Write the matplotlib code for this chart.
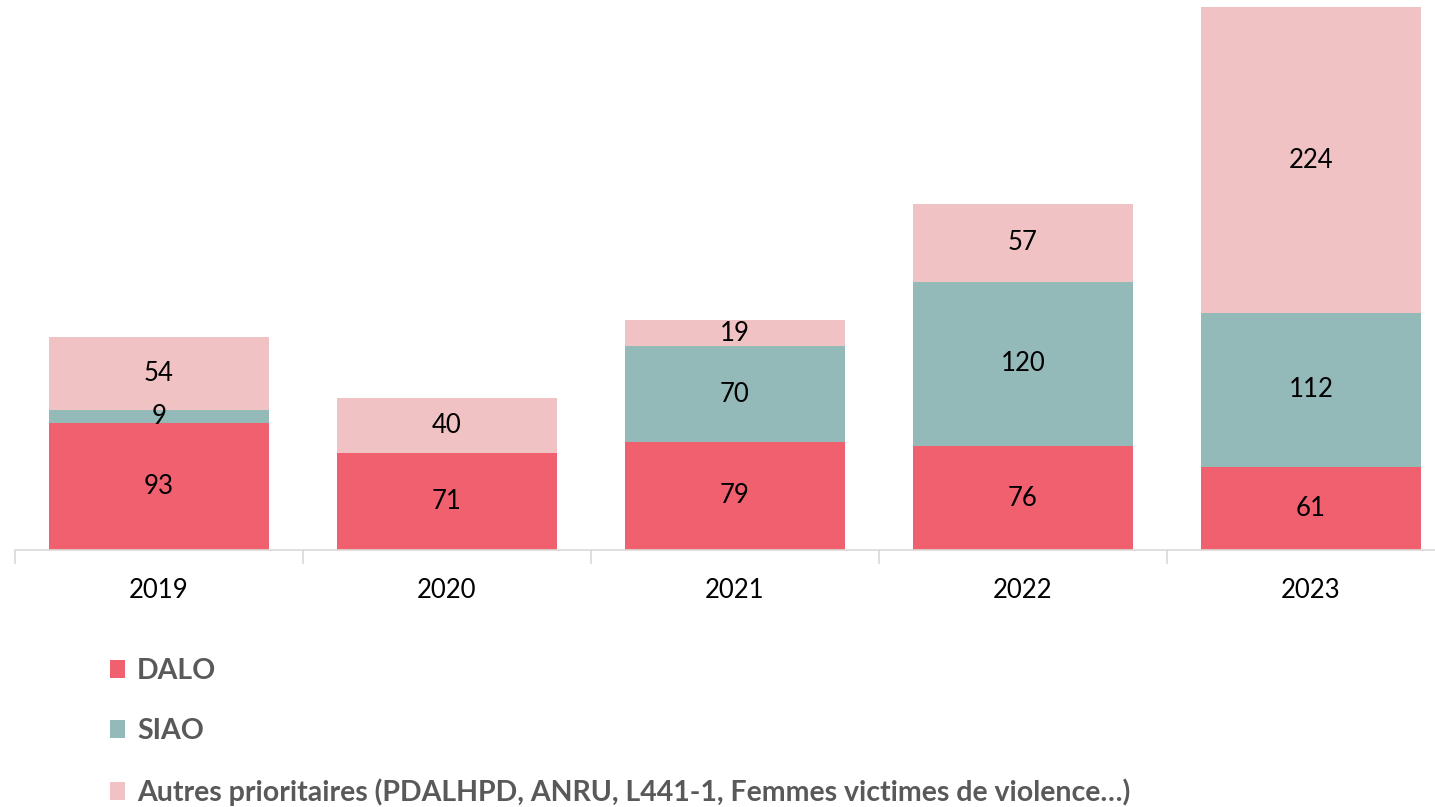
import matplotlib.pyplot as plt
import numpy as np

plt.rcParams['font.family'] = ['Lato', 'DejaVu Sans']

annees = ['2019', '2020', '2021', '2022', '2023']
dalo = [93, 71, 79, 76, 61]
siao = [9, 0, 70, 120, 112]
autres = [54, 40, 19, 57, 224]

c_dalo = '#F0606F'
c_siao = '#93BAB8'
c_autres = '#F0C2C3'

fig = plt.figure(figsize=(14.35, 8.07), dpi=100)
ax = fig.add_axes([15 / 1435, 1 - 550 / 807, 1440 / 1435, 543 / 807])

x = np.arange(len(annees))
w = 0.764
b1 = ax.bar(x, dalo, w, color=c_dalo, label='DALO')
b2 = ax.bar(x, siao, w, bottom=dalo, color=c_siao, label='SIAO')
bas3 = np.array(dalo) + np.array(siao)
b3 = ax.bar(x, autres, w, bottom=bas3, color=c_autres,
            label='Autres prioritaires (PDALHPD, ANRU, L441-1, Femmes victimes de violence…)')

for bars, vals in [(b1, dalo), (b2, siao), (b3, autres)]:
    labs = [str(v) if v else '' for v in vals]
    ax.bar_label(bars, labels=labs, label_type='center', fontsize=18.5, color='black')

ax.set_xlim(-0.5, 4.5)
ax.set_ylim(0, 397)
ax.set_yticks([])
for s in ['top', 'right', 'left']:
    ax.spines[s].set_visible(False)
ax.spines['bottom'].set_color('#d9d9d9')
ax.spines['bottom'].set_linewidth(1.2)

# graduations entre les catégories
ax.set_xticks(np.arange(-0.5, 5, 1))
ax.set_xticklabels([])
ax.tick_params(axis='x', which='major', length=10, color='#d9d9d9', width=1.2)
ax.set_xticks(x, minor=True)
ax.set_xticklabels(annees, minor=True, fontsize=18.5)
ax.tick_params(axis='x', which='minor', length=0, pad=20)

fig.legend(handles=[b1, b2, b3], loc='upper left', bbox_to_anchor=(84 / 1435, 1 - 632 / 807),
           frameon=False, ncol=1, handlelength=0.55, handleheight=0.6, handletextpad=0.42,
           labelspacing=1.21, prop={'weight': 'bold', 'size': 20.5}, labelcolor='#595959')

fig.savefig('out.png', dpi=100)
